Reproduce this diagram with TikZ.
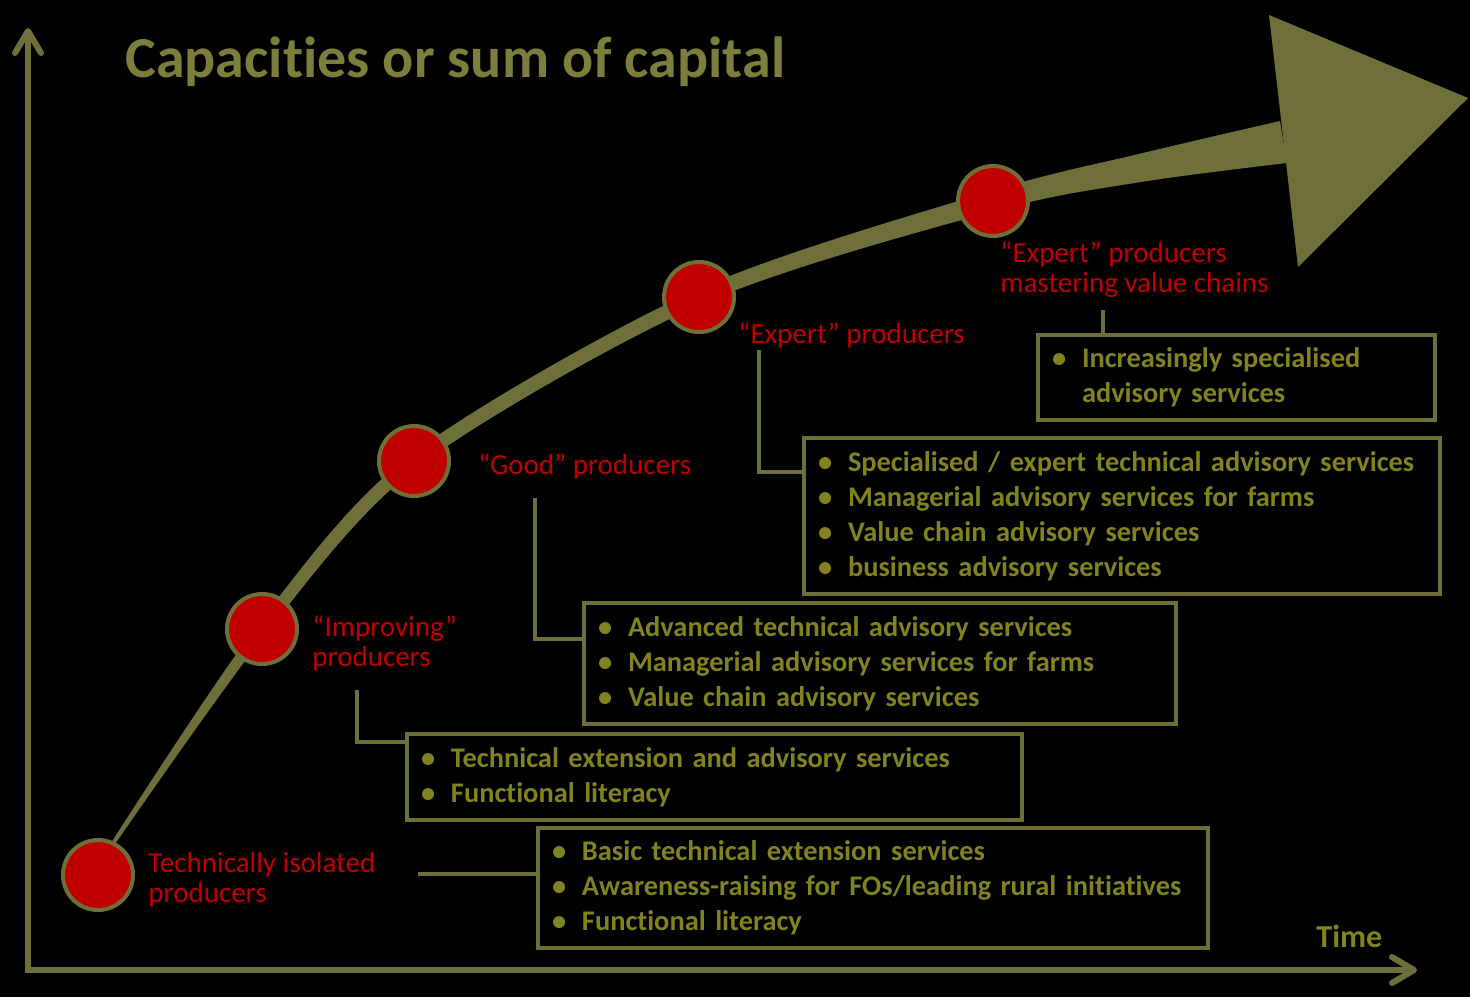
\documentclass[tikz,border=0pt]{standalone}
\usepackage{fontspec}
\setmainfont{Carlito}[Ligatures=NoCommon]
\usetikzlibrary{arrows.meta}
\definecolor{olivedk}{RGB}{111,111,58}
\definecolor{olivetxt}{RGB}{130,130,30}
\definecolor{olivetitle}{RGB}{125,125,60}
\definecolor{stagered}{RGB}{192,0,0}
\newcommand{\itm}{\makebox[15pt][l]{•}}
\newcommand{\itmcont}{\hspace*{15pt}}
\tikzset{
  stage/.style={circle,fill=stagered,draw=olivedk,line width=2pt,minimum size=35pt,inner sep=0pt},
  grade/.style={text=stagered,anchor=base west,inner sep=0pt,align=left,
    font=\fontsize{14.5pt}{15pt}\selectfont},
  svcbox/.style 2 args={draw=olivedk,line width=2pt,fill=black,anchor=north west,
    inner xsep=7pt,inner ysep=0pt,text=olivetxt,align=left,text width=#1,minimum height=#2,
    font=\bfseries\fontsize{14.2pt}{17.5pt}\selectfont},
  link/.style={draw=olivedk,line width=2pt},
  axis/.style={draw=olivedk,line width=3pt,line cap=round,
    arrows={Straight Barb[length=11pt,width=13pt,round]-Straight Barb[length=11pt,width=13pt,round]}}
}

\begin{document}
\begin{tikzpicture}[x=0.5pt,y=-0.5pt]
  \fill[black] (0,0) rectangle (1470,997);
  \useasboundingbox (0,0) rectangle (1470,997);

  % axes
  \coordinate (ytop) at (28,28);
  \coordinate (orig) at (28,970);
  \coordinate (xend) at (1417,970);
  \draw[axis] (ytop) -- (orig) -- (xend);

  \node[anchor=base west,inner sep=0pt,text=olivetitle,
    font=\bfseries\fontsize{29pt}{29pt}\selectfont] (title) at (125,77) {Capacities or sum of capital};
  \node[anchor=base west,inner sep=0pt,text=olivetxt,
    font=\bfseries\fontsize{16pt}{16pt}\selectfont] (time) at (1316,947) {Time};

  % growth curve and head
  \fill[olivedk] plot[smooth] coordinates {(110.4,843.9) (257.3,625.3) (409.8,455.4)
      (695.9,290.2) (990.5,191.3) (1136.9,154.4) (1280,121)}
    -- plot[smooth] coordinates {(1287,163) (1143.1,181.7) (995.5,210.7) (702.1,303.8)
      (418.2,466.6) (266.7,632.7) (113.6,846.1)} -- cycle;
  \fill[olivedk] (1269,15) -- (1468,98) -- (1298,267) -- cycle;

  \foreach \n/\x/\y in {1/98/875,2/262/629,3/414/461,4/699/297,5/993/201}
    \node[stage] (s\n) at (\x,\y) {};

  % last baseline of each label
  \node[grade] (isol) at (148,902) {Technically isolated\\producers};
  \node[grade] (impr) at (312,666) {“Improving”\\producers};
  \node[grade] (good) at (478,474) {“Good” producers};
  \node[grade] (expt) at (738,343) {“Expert” producers};
  \node[grade] (mast) at (1000,292) {“Expert” producers\\mastering value chains};

  % service boxes
  \node[svcbox={321pt}{60pt}] (box1) at (536,826) {\itm Basic technical extension services\\
    \itm Awareness-raising for FOs/leading rural initiatives\\\itm Functional literacy};
  \node[svcbox={293.5pt}{43pt}] (box2) at (405,732) {\itm Technical extension and advisory services\\
    \itm Functional literacy};
  \node[svcbox={282pt}{60.5pt}] (box3) at (582,601) {\itm Advanced technical advisory services\\
    \itm Managerial advisory services for farms\\\itm Value chain advisory services};
  \node[svcbox={304pt}{78pt}] (box4) at (802,436) {\itm Specialised / expert technical advisory services\\
    \itm Managerial advisory services for farms\\\itm Value chain advisory services\\
    \itm business advisory services};
  \node[svcbox={184.5pt}{42.5pt}] (box5) at (1036,333) {\itm Increasingly specialised\\
    \itmcont advisory services};

  % connectors
  \coordinate (isol-end) at (418,874);
  \coordinate (impr-top) at (357,690);
  \coordinate (impr-knee) at (357,742);
  \coordinate (good-top) at (535,498);
  \coordinate (good-knee) at (535,639);
  \coordinate (expt-top) at (759,350);
  \coordinate (expt-knee) at (759,472);
  \coordinate (mast-top) at (1103,310);
  \draw[link] (isol-end) -- (isol-end -| box1.west);
  \draw[link] (impr-top) -- (impr-knee) -- (impr-knee -| box2.west);
  \draw[link] (good-top) -- (good-knee) -- (good-knee -| box3.west);
  \draw[link] (expt-top) -- (expt-knee) -- (expt-knee -| box4.west);
  \draw[link] (mast-top) -- (mast-top |- box5.north);
\end{tikzpicture}
\end{document}
